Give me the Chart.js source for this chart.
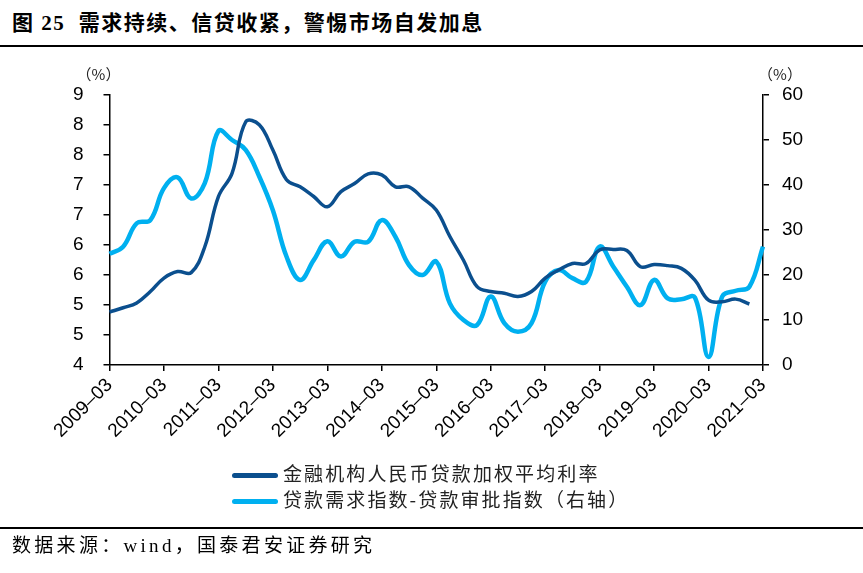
<!DOCTYPE html>
<html>
<head>
<meta charset="utf-8">
<script src="https://cdn.jsdelivr.net/npm/chart.js@4"></script>
<style>
  body { margin: 0; background: #fff; }
  #page { position: relative; width: 863px; height: 573px; overflow: hidden; background: #fff; }
  #title { position: absolute; left: 12px; top: 6px; font: bold 21px "Liberation Serif", "Noto Sans CJK SC", serif; letter-spacing: 1.5px; color: #000; white-space: nowrap; }
  .rule { position: absolute; left: 0; width: 863px; height: 2px; background: #000; }
  #box { position: absolute; left: 0; top: 0; width: 863px; height: 573px; }
  #legend { position: absolute; left: 232px; top: 460px; font: 19px "Noto Sans CJK SC", sans-serif; color: #222; letter-spacing: 2.1px; }
  #legend div { height: 26px; line-height: 26px; white-space: nowrap; }
  #legend span.sw { display: inline-block; width: 46px; height: 5px; border-radius: 3px; vertical-align: middle; margin-right: 5px; }
  #source { position: absolute; left: 12px; top: 530px; font: 19px "Liberation Serif", "Noto Sans CJK SC", serif; color: #000; letter-spacing: 3.3px; white-space: nowrap; }
</style>
</head>
<body>
<div id="page">
  <div id="title">图 25&nbsp; 需求持续、信贷收紧，警惕市场自发加息</div>
  <div class="rule" style="top:45px"></div>
  <div id="box"><canvas id="chart"></canvas></div>
  <div id="legend"></div>
  <div class="rule" style="top:527px"></div>
  <div id="source">数据来源：wind，国泰君安证券研究</div>
</div>
<script>
// quarterly categories, 2009-03 .. 2021-03
const years = [2009, 2010, 2011, 2012, 2013, 2014, 2015, 2016, 2017, 2018, 2019, 2020, 2021];
const months = ['03', '06', '09', '12'];
const quarters = [];
years.forEach(y => months.forEach(m => {
    if (y < 2021 || m === '03') quarters.push(y + '–' + m);
}));

// 金融机构人民币贷款加权平均利率 (left axis, %)
const lendingRate = [
    4.98, 5.06, 5.15, 5.36, 5.61, 5.73, 5.71, 6.19, 7.12, 7.55,
    8.50, 8.45, 7.98, 7.43, 7.30, 7.12, 6.93, 7.21, 7.36, 7.54,
    7.52, 7.30, 7.30, 7.09, 6.87, 6.38, 5.94, 5.45, 5.36, 5.33,
    5.27, 5.36, 5.61, 5.76, 5.88, 5.88, 6.13, 6.14, 6.12, 5.82,
    5.86, 5.84, 5.79, 5.57, 5.20, 5.17, 5.22, 5.13, null
];

// 贷款需求指数-贷款审批指数 (right axis, %)
const demandGap = [
    24.7, 26.3, 31.5, 32.2, 39.3, 41.7, 37.0, 40.4, 52.0, 50.0,
    47.8, 41.9, 34.4, 24.1, 18.9, 23.3, 27.5, 24.1, 27.4, 27.4,
    32.2, 28.5, 22.2, 20.0, 23.0, 13.7, 10.0, 8.9, 15.2, 9.3,
    7.4, 9.3, 18.5, 21.1, 19.3, 18.5, 26.3, 21.9, 17.4, 13.3,
    18.9, 14.8, 14.6, 15.0, 1.8, 15.2, 16.5, 17.4, 26.3
];

const seriesNames = ['金融机构人民币贷款加权平均利率', '贷款需求指数-贷款审批指数（右轴）'];
const seriesColors = ['#0B4F8E', '#00B0F0'];

const tickFont = { family: "'Liberation Sans', Arial, sans-serif", size: 19 };

// "(%)" captions above both value axes
const unitLabels = {
    id: 'unitLabels',
    afterDraw(chart) {
        const c = chart.ctx;
        c.save();
        c.fillStyle = '#222';
        c.font = "15px 'Noto Sans CJK SC', sans-serif";
        c.textAlign = 'center';
        c.textBaseline = 'middle';
        c.fillText('（%）', chart.scales.y.right - 11, 74);
        c.fillText('（%）', chart.scales.y1.left + 17, 74);
        c.restore();
    }
};

new Chart(document.getElementById('chart'), {
    type: 'line',
    data: {
        labels: quarters,
        datasets: [{
            label: seriesNames[0],
            data: lendingRate,
            yAxisID: 'y',
            borderColor: seriesColors[0],
            borderWidth: 3.5,
            pointRadius: 0,
            tension: 0.4,
            spanGaps: false
        }, {
            label: seriesNames[1],
            data: demandGap,
            yAxisID: 'y1',
            borderColor: seriesColors[1],
            borderWidth: 4.5,
            pointRadius: 0,
            tension: 0.4
        }]
    },
    options: {
        responsive: true,
        maintainAspectRatio: false,
        animation: false,
        layout: { padding: { top: 95, bottom: 108, left: 0, right: 0 } },
        plugins: { legend: { display: false }, tooltip: { enabled: false } },
        scales: {
            x: {
                offset: false,
                border: { display: true, color: '#000', width: 1.5 },
                grid: {
                    drawOnChartArea: false,
                    tickLength: 6,
                    lineWidth: 1.5,
                    color: ctx => (ctx.index % 4 === 0 ? '#000' : 'rgba(0,0,0,0)')
                },
                ticks: {
                    autoSkip: false,
                    maxRotation: 45,
                    minRotation: 45,
                    padding: 3,
                    color: '#000',
                    font: { family: "'Liberation Sans', Arial, sans-serif", size: 19 },
                    callback: (v, i) => (i % 4 === 0 ? quarters[i] : '')
                },
                afterFit: s => { s.height = 100; }
            },
            y: {
                position: 'left',
                min: 4,
                max: 9,
                border: { display: true, color: '#000', width: 1.5 },
                grid: { drawOnChartArea: false, tickLength: 6, lineWidth: 1.5, color: '#000' },
                ticks: {
                    count: 10,
                    padding: 20,
                    color: '#000',
                    font: tickFont,
                    callback: v => Math.round(v)
                },
                afterFit: s => { s.width = 109.5; }
            },
            y1: {
                position: 'right',
                min: 0,
                max: 60,
                border: { display: true, color: '#000', width: 1.5 },
                grid: { drawOnChartArea: false, tickLength: 6, lineWidth: 1.5, color: '#000' },
                ticks: { stepSize: 10, padding: 13, color: '#000', font: tickFont },
                afterFit: s => { s.width = 100; }
            }
        }
    },
    plugins: [unitLabels]
});

// legend, one row per series
const legend = document.getElementById('legend');
seriesNames.forEach((name, i) => {
    const row = document.createElement('div');
    row.innerHTML = '<span class="sw" style="background:' + seriesColors[i] + '"></span>' + name;
    legend.appendChild(row);
});
</script>
</body>
</html>
